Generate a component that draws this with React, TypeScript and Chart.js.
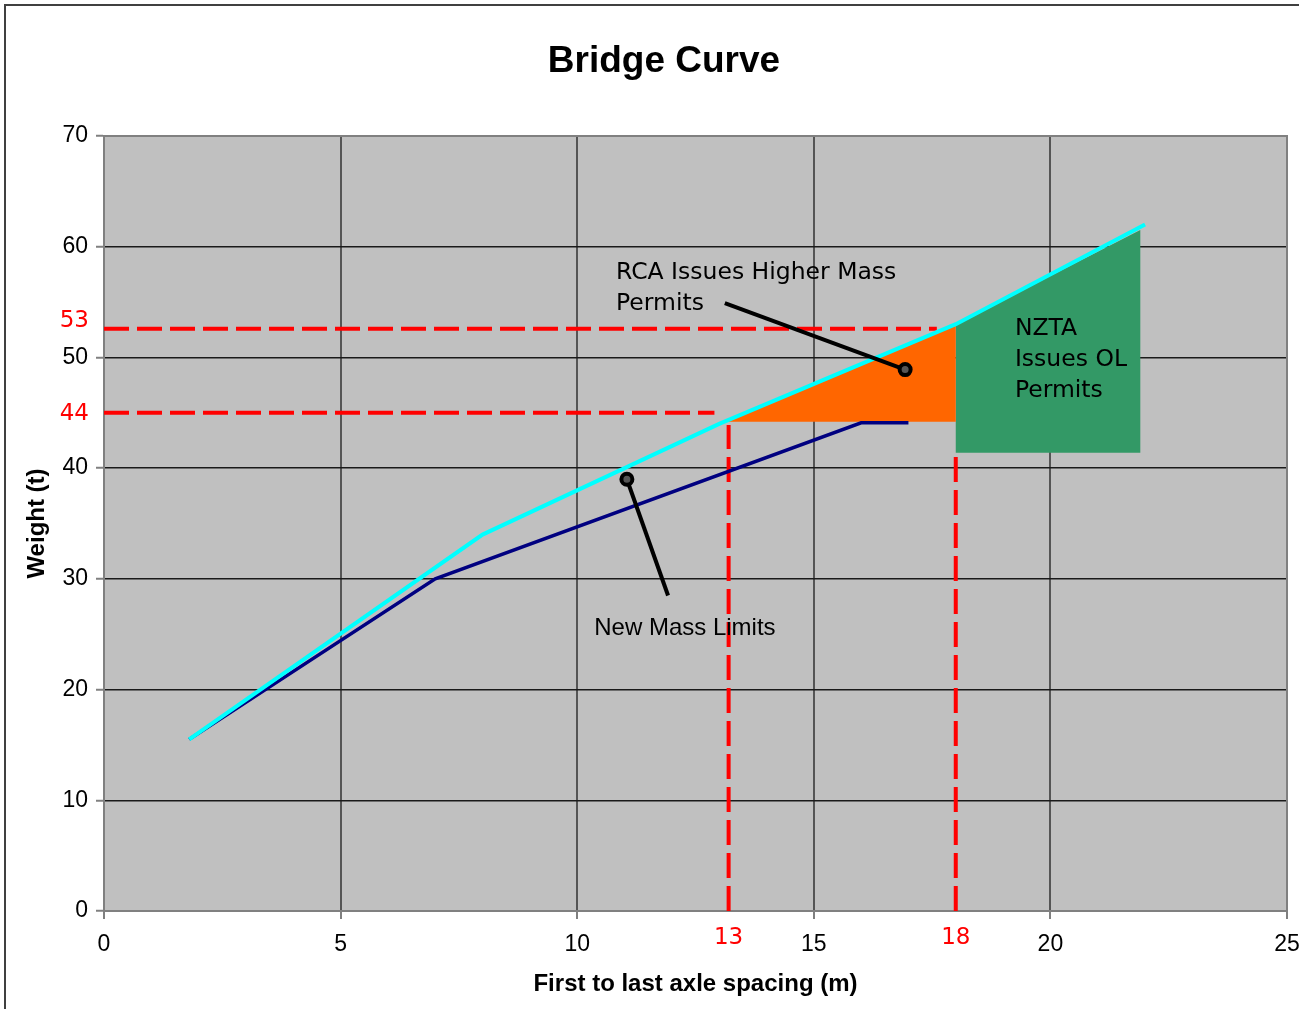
import React, { useEffect, useRef } from 'react';
import { Chart, registerables } from 'chart.js';

Chart.register(...registerables);

// ---- data ----
const titleText = 'Bridge Curve';
const xAxisTitle = 'First to last axle spacing (m)';
const yAxisTitle = 'Weight (t)';

const xMin = 0;
const xMax = 25;
const xStep = 5;
const yMin = 0;
const yMax = 70;
const yStep = 10;

// upper curve (cyan)
const bridgeX = [1.8, 8, 13, 18, 22];
const bridgeY = [15.5, 34, 44, 53, 62];

// new mass limits (navy)
const massX = [1.8, 7, 16, 17];
const massY = [15.5, 30, 44.1, 44.1];

// orange region (RCA permits)
const rcaX = [13.1, 18, 18];
const rcaY = [44.2, 53, 44.2];

// green region (NZTA permits)
const nztaX = [18, 21.9, 21.9, 18];
const nztaY = [53, 61.5, 41.4, 41.4];

// red dashed reference lines
const ref53X = [0, 17.6];
const ref53Y = [52.6, 52.6];
const ref44X = [0, 12.9];
const ref44Y = [45, 45];
const ref13X = [13.2, 13.2];
const ref13Y = [0, 43.9];
const ref18X = [18, 18];
const ref18Y = [0, 41.4];

// red extra tick labels
const redYLabels = ['53', '44'];
const redYValues = [53.3, 44.9];
const redXLabels = ['13', '18'];
const redXValues = [13.2, 18.0];

// pointer arrows (start -> end with dot)
const arrow1X = [13.12, 16.93];
const arrow1Y = [54.9, 48.9];
const arrow2X = [11.92, 11.05];
const arrow2Y = [28.5, 39.0];

// annotation notes
const noteLines = [['RCA Issues Higher Mass', 'Permits'], ['NZTA', 'Issues OL', 'Permits'], ['New Mass Limits']];
const noteX = [10.82, 19.25, 10.36];
const noteY = [57.6, 52.6, 25.5];

const pts = (xs: number[], ys: number[]) => xs.map((x, i) => ({ x, y: ys[i] }));

const decor = {
  id: 'decor',
  beforeDraw(chart: any) {
    const { ctx, chartArea: a } = chart;
    ctx.save();
    ctx.fillStyle = '#ffffff';
    ctx.fillRect(0, 0, chart.width, chart.height);
    ctx.strokeStyle = '#404040';
    ctx.lineWidth = 2;
    ctx.strokeRect(5, 5, chart.width + 40, chart.height + 40);
    ctx.fillStyle = '#c0c0c0';
    ctx.fillRect(a.left, a.top, a.right - a.left, a.bottom - a.top);
    ctx.restore();
  },
  beforeDatasetsDraw(chart: any) {
    const { ctx, chartArea: a } = chart;
    ctx.save();
    ctx.strokeStyle = '#808080';
    ctx.lineWidth = 2;
    ctx.strokeRect(a.left, a.top, a.right - a.left, a.bottom - a.top);
    ctx.restore();
  },
  afterDraw(chart: any) {
    const { ctx, chartArea: a } = chart;
    const xs = chart.scales.x;
    const ys = chart.scales.y;
    ctx.save();
    // title
    ctx.fillStyle = '#000';
    ctx.font = 'bold 37px "Liberation Sans", Arial, sans-serif';
    ctx.textAlign = 'center';
    ctx.textBaseline = 'middle';
    ctx.fillText(titleText, 664, 62);

    // red tick labels
    ctx.fillStyle = '#ff0000';
    ctx.font = '23px "DejaVu Sans", sans-serif';
    ctx.textAlign = 'right';
    redYLabels.forEach((t, i) => {
      ctx.fillText(t, a.left - 15, ys.getPixelForValue(redYValues[i]));
    });
    ctx.textAlign = 'center';
    redXLabels.forEach((t, i) => {
      ctx.fillText(t, xs.getPixelForValue(redXValues[i]), a.bottom + 27);
    });

    // notes
    const noteFonts = ['23.5px "DejaVu Sans", sans-serif', '23.5px "DejaVu Sans", sans-serif', '24px "Liberation Sans", Arial, sans-serif'];
    ctx.fillStyle = '#000';
    ctx.textAlign = 'left';
    noteLines.forEach((lines, i) => {
      ctx.font = noteFonts[i];
      const x0 = xs.getPixelForValue(noteX[i]);
      const y0 = ys.getPixelForValue(noteY[i]);
      lines.forEach((line, j) => ctx.fillText(line, x0, y0 + j * 31));
    });
    ctx.restore();
  },
};

export default function App() {
  const ref = useRef<HTMLCanvasElement>(null);
  useEffect(() => {
    const canvas = ref.current!;
    const redDash = {
      showLine: true,
      borderColor: '#ff0000',
      borderWidth: 4,
      borderDash: [25, 8],
      borderCapStyle: 'butt',
      pointRadius: 0,
      fill: false,
      order: 3,
    };
    const arrowStyle = {
      showLine: true,
      borderColor: '#000000',
      borderWidth: 4,
      pointRadius: [0, 5.5],
      pointHoverRadius: 0,
      pointStyle: 'circle',
      pointBorderColor: '#000000',
      pointBorderWidth: 4,
      pointBackgroundColor: '#555555',
      fill: false,
      order: 0,
    };
    const chart = new Chart(canvas, {
      type: 'scatter',
      data: {
        datasets: [
          { ...arrowStyle, label: 'arrow1', data: pts(arrow1X, arrow1Y) } as any,
          { ...arrowStyle, label: 'arrow2', data: pts(arrow2X, arrow2Y) } as any,
          {
            label: 'Bridge curve',
            data: pts(bridgeX, bridgeY),
            showLine: true,
            borderColor: '#00ffff',
            borderWidth: 4,
            pointRadius: 0,
            fill: false,
            order: 1,
          },
          {
            label: 'New Mass Limits',
            data: pts(massX, massY),
            showLine: true,
            borderColor: '#000080',
            borderWidth: 3.5,
            pointRadius: 0,
            fill: false,
            order: 2,
          },
          { ...redDash, label: 'ref53', data: pts(ref53X, ref53Y) } as any,
          { ...redDash, label: 'ref44', data: pts(ref44X, ref44Y) } as any,
          { ...redDash, label: 'ref13', data: pts(ref13X, ref13Y) } as any,
          { ...redDash, label: 'ref18', data: pts(ref18X, ref18Y) } as any,
          {
            label: 'RCA',
            data: pts(rcaX, rcaY),
            showLine: true,
            borderWidth: 0,
            borderColor: 'rgba(0,0,0,0)',
            backgroundColor: '#ff6600',
            pointRadius: 0,
            fill: 'shape',
            order: 4,
          } as any,
          {
            label: 'NZTA',
            data: pts(nztaX, nztaY),
            showLine: true,
            borderWidth: 0,
            borderColor: 'rgba(0,0,0,0)',
            backgroundColor: '#339966',
            pointRadius: 0,
            fill: 'shape',
            order: 4,
          } as any,
        ],
      },
      options: {
        responsive: false,
        animation: false,
        devicePixelRatio: 1,
        layout: { padding: { top: 136, left: 0, right: 43, bottom: 0 } },
        plugins: {
          legend: { display: false },
          tooltip: { enabled: false },
          title: { display: false },
        },
        events: [],
        scales: {
          x: {
            type: 'linear',
            min: xMin,
            max: xMax,
            afterFit: (s: any) => { s.height = 98; },
            ticks: {
              stepSize: xStep,
              padding: 12,
              color: '#000',
              font: { family: '"Liberation Sans", Arial, sans-serif', size: 23 },
            },
            grid: { color: '#555555', lineWidth: 2, tickColor: '#808080', tickLength: 8, tickWidth: 2 },
            border: { color: '#808080', width: 2 },
            title: {
              display: true,
              text: xAxisTitle,
              color: '#000',
              font: { family: '"Liberation Sans", Arial, sans-serif', size: 24, weight: 'bold' },
              padding: { top: 0, bottom: 10 },
            },
          },
          y: {
            type: 'linear',
            min: yMin,
            max: yMax,
            afterFit: (s: any) => { s.width = 104; },
            ticks: {
              stepSize: yStep,
              padding: 8,
              color: '#000',
              font: { family: '"Liberation Sans", Arial, sans-serif', size: 23 },
            },
            grid: { color: '#1a1a1a', lineWidth: 1.5, tickColor: '#808080', tickLength: 8, tickWidth: 2 },
            border: { color: '#808080', width: 2 },
            title: {
              display: true,
              text: yAxisTitle,
              color: '#000',
              font: { family: '"Liberation Sans", Arial, sans-serif', size: 24, weight: 'bold' },
              padding: { top: 23, bottom: 0 },
            },
          },
        },
      } as any,
      plugins: [decor],
    });
    return () => chart.destroy();
  }, []);
  return (
    <div style={{ position: 'fixed', left: 0, top: 0, width: 1299, height: 1009, overflow: 'hidden', background: '#fff' }}>
      <canvas ref={ref} width={1330} height={1009} style={{ display: 'block', width: 1330, height: 1009 }} />
    </div>
  );
}
